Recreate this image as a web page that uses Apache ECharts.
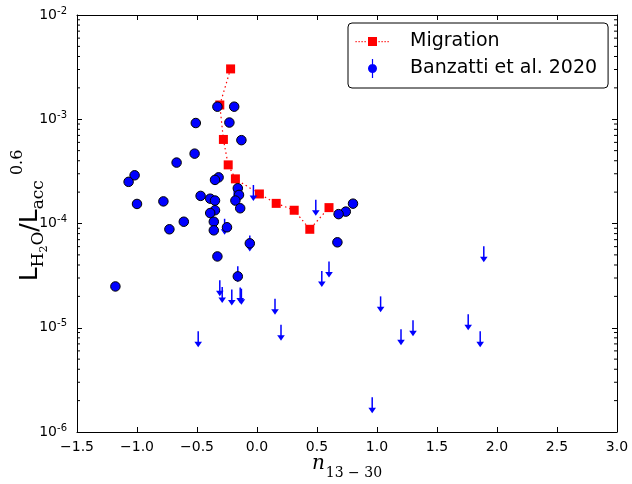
<!DOCTYPE html>
<html>
<head>
<meta charset="utf-8">
<script src="https://cdn.jsdelivr.net/npm/echarts@6/dist/echarts.min.js"></script>
<style>
html, body { margin: 0; padding: 0; background: #fff; }
#chart { width: 632px; height: 484px; }
</style>
</head>
<body>
<div id="chart"></div>
<script>
// Migration model track
const migX = [-0.22, -0.31, -0.28, -0.24, -0.18, 0.02, 0.16, 0.31, 0.44, 0.60];
const migY = [3.04e-3, 1.37e-3, 6.4e-4, 3.65e-4, 2.68e-4, 1.92e-4, 1.56e-4, 1.34e-4, 8.8e-5, 1.42e-4];

// Banzatti et al. 2020 detections
const detX = [-0.33, -0.19, -0.51, -0.23, -0.13, -0.52, -0.67, -1.02, -1.07, -0.32,
              -0.35, -0.16, -0.47, -0.15, -1.00, -0.78, -0.39, -0.35, -0.18, -0.14,
              -0.35, -0.39, -0.61, -0.36, -0.25, -0.73, -0.36, -0.06, -0.33, -0.16,
              -1.18, 0.80, 0.74, 0.68, 0.67];
const detY = [1.32e-3, 1.32e-3, 9.2e-4, 9.3e-4, 6.3e-4, 4.68e-4, 3.84e-4, 2.9e-4, 2.51e-4, 2.77e-4,
              2.62e-4, 2.18e-4, 1.84e-4, 1.88e-4, 1.54e-4, 1.63e-4, 1.73e-4, 1.66e-4, 1.66e-4, 1.4e-4,
              1.34e-4, 1.26e-4, 1.04e-4, 1.04e-4, 9.2e-5, 8.8e-5, 8.6e-5, 6.45e-5, 4.83e-5, 3.11e-5,
              2.49e-5, 1.55e-4, 1.3e-4, 1.23e-4, 6.6e-5];

// Banzatti et al. 2020 upper limits
const limX = [-0.31, -0.29, -0.21, -0.14, -0.13, -0.16, 0.15, 0.20, -0.49, 0.54,
              0.60, -0.03, -0.19, -0.27, -0.06, 0.49, 1.89, 1.03, 1.30, 1.20,
              1.76, 1.86, 0.96];
const limY = [2.85e-5, 2.46e-5, 2.33e-5, 2.43e-5, 2.37e-5, 3.88e-5, 1.9e-5, 1.07e-5, 9.26e-6, 3.5e-5,
              4.33e-5, 2.34e-4, 2.11e-4, 1.11e-4, 7.67e-5, 1.69e-4, 6.06e-5, 2.0e-5, 1.18e-5, 9.68e-6,
              1.35e-5, 9.26e-6, 2.16e-6];

// log axis range (exponents) and minor tick mantissas
const yExpMin = -6;
const yExpMax = -2;
const minorMant = [2, 3, 4, 5, 6, 7, 8, 9];

const xMin = -1.5, xMax = 3.0;

const minorVals = [];
for (let e = yExpMin; e < yExpMax; e++) {
    minorMant.forEach(m => minorVals.push([xMin, m * Math.pow(10, e)]));
}

// legend glyphs, drawn in a 35x19 box (tiny corner specks fix the box size)
const box = 'M0,0 h0.01 v0.01 z M34.99,18.99 h0.01 v0.01 z ';
let migIcon = box + 'M13,5 h9 v9 h-9 z ';
[0.5, 3.5, 6.5, 9.5, 23.5, 26.5, 29.5, 32.5].forEach(x => {
    migIcon += 'M' + x + ',9 h1.2 v1.2 h-1.2 z ';
});
const banIcon = box + 'M16.9,0 h1.2 v19 h-1.2 z M13,9.5 A4.5,4.5 0 1 1 22,9.5 A4.5,4.5 0 1 1 13,9.5 z';

const chart = echarts.init(document.getElementById('chart'));

const tickFont = { fontFamily: 'DejaVu Sans', fontSize: 14, color: '#000' };

const option = {
    animation: false,
    grid: { left: 77, right: 15, top: 15, bottom: 52, outerBoundsMode: 'none', containLabel: false },
    legend: {
        left: 348, top: 23,
        orient: 'vertical',
        backgroundColor: '#fff',
        borderColor: '#000',
        borderWidth: 1,
        borderRadius: 4,
        padding: [9, 11, 10, 7],
        itemWidth: 35,
        itemHeight: 19,
        itemGap: 8,
        textStyle: { fontFamily: 'DejaVu Sans', fontSize: 19, color: '#000', padding: [0, 0, 0, 15] },
        data: [
            { name: 'Migration', icon: 'path://' + migIcon, itemStyle: { color: '#ff0000' } },
            { name: 'Banzatti et al. 2020', icon: 'path://' + banIcon, itemStyle: { color: '#0000ff', borderWidth: 0 } }
        ]
    },
    xAxis: [{
        type: 'value',
        min: xMin, max: xMax, interval: 0.5,
        position: 'bottom',
        axisLine: { onZero: false, lineStyle: { color: '#000', width: 1 } },
        axisTick: { inside: true, length: 5, lineStyle: { color: '#000' } },
        splitLine: { show: false },
        axisLabel: Object.assign({ margin: 8, formatter: v => v.toFixed(1).replace('-', '\u2212') }, tickFont),
        name: '{n|n}{sub|13 \u2212 30}',
        nameLocation: 'middle',
        nameGap: 22,
        nameMoveOverlap: false,
        nameTextStyle: {
            rich: {
                n: { fontFamily: 'DejaVu Serif', fontStyle: 'italic', fontSize: 20, lineHeight: 26, verticalAlign: 'top', color: '#000' },
                sub: { fontFamily: 'DejaVu Serif', fontSize: 14, lineHeight: 26, verticalAlign: 'bottom', color: '#000', padding: [0, 0, 0, 1] }
            }
        }
    }, {
        type: 'value',
        min: xMin, max: xMax, interval: 0.5,
        position: 'top',
        axisLine: { onZero: false, lineStyle: { color: '#000', width: 1 } },
        axisTick: { inside: true, length: 5, lineStyle: { color: '#000' } },
        splitLine: { show: false },
        axisLabel: { show: false }
    }],
    yAxis: [{
        type: 'log',
        logBase: 10,
        min: Math.pow(10, yExpMin), max: Math.pow(10, yExpMax),
        interval: 1,
        position: 'left',
        axisLine: { onZero: false, lineStyle: { color: '#000', width: 1 } },
        axisTick: { inside: true, length: 5, lineStyle: { color: '#000' } },
        splitLine: { show: false },
        axisLabel: {
            margin: 10,
            formatter: v => '10{sup|' + Math.round(Math.log10(v)) + '}',
            fontFamily: 'DejaVu Sans', fontSize: 14, color: '#000',
            rich: {
                sup: { fontFamily: 'DejaVu Sans', fontSize: 10, verticalAlign: 'top', lineHeight: 18, color: '#000' }
            }
        },
        name: '{L0|L}{s|H}{ss|2}{s|O}{L|/L}{s|acc}{sup|0.6}',
        nameLocation: 'middle',
        nameRotate: 90,
        nameGap: 27,
        nameMoveOverlap: false,
        nameTextStyle: {
            rich: {
                L0: { fontFamily: 'DejaVu Sans', fontSize: 25, lineHeight: 40, verticalAlign: 'middle', color: '#000', padding: [0, 0, 0, 16] },
                L: { fontFamily: 'DejaVu Sans', fontSize: 25, lineHeight: 40, verticalAlign: 'middle', color: '#000' },
                s: { fontFamily: 'DejaVu Serif', fontSize: 17, lineHeight: 40, verticalAlign: 'bottom', color: '#000', padding: [0, 0, 3, 0] },
                ss: { fontFamily: 'DejaVu Serif', fontSize: 11, lineHeight: 40, verticalAlign: 'bottom', color: '#000' },
                sup: { fontFamily: 'DejaVu Serif', fontSize: 16, lineHeight: 40, verticalAlign: 'top', color: '#000', padding: [0, 0, 0, 5] }
            }
        }
    }, {
        type: 'log',
        logBase: 10,
        min: Math.pow(10, yExpMin), max: Math.pow(10, yExpMax),
        interval: 1,
        position: 'right',
        axisLine: { onZero: false, lineStyle: { color: '#000', width: 1 } },
        axisTick: { inside: true, length: 5, lineStyle: { color: '#000' } },
        splitLine: { show: false },
        axisLabel: { show: false }
    }],
    series: [
        {
            // minor log ticks on left and right frame
            type: 'custom',
            silent: true,
            xAxisIndex: 0, yAxisIndex: 0,
            data: minorVals,
            renderItem: function (params, api) {
                const l = api.coord([xMin, api.value(1)]);
                const r = api.coord([xMax, api.value(1)]);
                return {
                    type: 'group',
                    children: [
                        { type: 'line', shape: { x1: l[0], y1: l[1], x2: l[0] + 3, y2: l[1] }, style: { stroke: '#000', lineWidth: 1 } },
                        { type: 'line', shape: { x1: r[0], y1: r[1], x2: r[0] - 3, y2: r[1] }, style: { stroke: '#000', lineWidth: 1 } }
                    ]
                };
            }
        },
        {
            name: 'Migration',
            type: 'line',
            xAxisIndex: 0, yAxisIndex: 0,
            data: migX.map((x, i) => [x, migY[i]]),
            symbol: 'rect',
            symbolSize: 9,
            showSymbol: true,
            itemStyle: { color: '#ff0000' },
            lineStyle: { color: '#ff0000', width: 1.2, type: [1.5, 3] },
            z: 3
        },
        {
            name: 'Banzatti et al. 2020',
            type: 'custom',
            xAxisIndex: 0, yAxisIndex: 0,
            data: limX.map((x, i) => [x, limY[i]]),
            renderItem: function (params, api) {
                const p = api.coord([api.value(0), api.value(1)]);
                return {
                    type: 'group',
                    children: [
                        { type: 'line', shape: { x1: p[0], y1: p[1], x2: p[0], y2: p[1] + 12 }, style: { stroke: '#0000ff', lineWidth: 1.5 } },
                        { type: 'polygon', shape: { points: [[p[0] - 3.8, p[1] + 10.5], [p[0] + 3.8, p[1] + 10.5], [p[0], p[1] + 16]] }, style: { fill: '#0000ff' } }
                    ]
                };
            },
            z: 4
        },
        {
            name: 'Banzatti et al. 2020',
            type: 'scatter',
            xAxisIndex: 0, yAxisIndex: 0,
            data: detX.map((x, i) => [x, detY[i]]),
            symbol: 'circle',
            symbolSize: 9.5,
            itemStyle: { color: '#0000ff', borderColor: '#000', borderWidth: 1, opacity: 1 },
            z: 5
        }
    ]
};

chart.setOption(option);
</script>
</body>
</html>
